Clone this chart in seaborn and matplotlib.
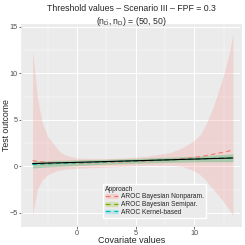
import matplotlib
matplotlib.use("Agg")
from matplotlib import pyplot as plt
from matplotlib.patches import Patch
from matplotlib.lines import Line2D
import pandas as pd
import seaborn as sns

# covariate grid and estimated curves
covariate = [-3.8, -3.4, -3.0, -2.5, -2.0, -1.5, -1.0, 0, 2, 4, 6, 8, 9, 10, 10.5, 11, 11.5, 12, 12.5, 13, 13.3]
true_thr = [0.30, 0.31, 0.33, 0.35, 0.37, 0.38, 0.40, 0.43, 0.50, 0.57, 0.64, 0.71, 0.75, 0.78, 0.80, 0.82, 0.84, 0.85, 0.87, 0.89, 0.90]

np_est = [0.62, 0.55, 0.48, 0.42, 0.38, 0.36, 0.35, 0.35, 0.40, 0.48, 0.58, 0.72, 0.82, 0.95, 1.05, 1.15, 1.28, 1.40, 1.52, 1.66, 1.78]
np_low = [-5.2, -2.5, -1.5, -0.9, -0.6, -0.4, -0.3, -0.2, -0.1, 0.0, 0.1, 0.1, 0.0, -0.5, -0.9, -1.5, -2.3, -3.0, -3.8, -4.7, -5.3]
np_up = [12.5, 7.5, 4.8, 3.2, 2.4, 1.6, 1.2, 0.9, 0.8, 0.9, 1.1, 1.5, 2.0, 2.8, 3.4, 4.5, 6.0, 7.8, 9.8, 12.2, 14.3]

semi_est = [0.22, 0.24, 0.26, 0.28, 0.31, 0.33, 0.35, 0.39, 0.47, 0.55, 0.63, 0.71, 0.75, 0.79, 0.81, 0.83, 0.85, 0.87, 0.89, 0.91, 0.92]
semi_low = [-0.15, -0.12, -0.09, -0.06, -0.03, 0.00, 0.03, 0.08, 0.18, 0.27, 0.35, 0.42, 0.45, 0.47, 0.48, 0.48, 0.49, 0.49, 0.49, 0.49, 0.49]
semi_up = [0.60, 0.60, 0.61, 0.62, 0.64, 0.66, 0.68, 0.71, 0.77, 0.84, 0.91, 1.00, 1.05, 1.11, 1.14, 1.18, 1.21, 1.25, 1.29, 1.33, 1.36]

ker_est = [0.20, 0.22, 0.25, 0.28, 0.30, 0.32, 0.34, 0.38, 0.46, 0.55, 0.63, 0.71, 0.75, 0.79, 0.81, 0.83, 0.85, 0.87, 0.88, 0.90, 0.91]
ker_low = [-0.20, -0.15, -0.10, -0.06, -0.02, 0.01, 0.04, 0.10, 0.22, 0.32, 0.40, 0.46, 0.48, 0.50, 0.50, 0.51, 0.51, 0.51, 0.51, 0.51, 0.51]
ker_up = [0.62, 0.60, 0.59, 0.60, 0.61, 0.63, 0.64, 0.67, 0.72, 0.80, 0.88, 0.97, 1.02, 1.08, 1.11, 1.15, 1.19, 1.23, 1.26, 1.30, 1.33]

approaches = ["AROC Bayesian Nonparam.", "AROC Bayesian Semipar.", "AROC Kernel-based"]
colores = ["#F8766D", "#7CAE00", "#00BFC4"]

sns.set_theme(style="darkgrid", rc={
    "axes.facecolor": "#EBEBEB",
    "grid.color": "white",
    "axes.edgecolor": "#EBEBEB",
})
plt.rcParams["font.family"] = ["Liberation Sans", "DejaVu Sans"]
plt.rcParams["mathtext.fontset"] = "custom"
plt.rcParams["mathtext.rm"] = "Liberation Sans"
plt.rcParams["mathtext.default"] = "regular"

fig = plt.figure(figsize=(2.45, 2.45), dpi=100)
ax = fig.add_axes([0.09, 0.078, 0.894, 0.82])

bandas = [(np_low, np_up), (semi_low, semi_up), (ker_low, ker_up)]
for (lo, up), c in zip(bandas, colores):
    ax.fill_between(covariate, lo, up, color=c, alpha=0.2, linewidth=0)

df = pd.DataFrame({
    "cov": covariate * 3,
    "thr": np_est + semi_est + ker_est,
    "approach": [a for a in approaches for _ in covariate],
})
sns.lineplot(data=df, x="cov", y="thr", hue="approach", palette=colores,
             linestyle=(0, (4, 3)), linewidth=0.8, ax=ax, legend=False)
sns.lineplot(x=covariate, y=true_thr, color="black", linewidth=0.8, ax=ax)

ax.set_xlim(-4.7, 14.0)
ax.set_ylim(-6.4, 15.2)
ax.set_xticks([0, 5, 10])
ax.set_yticks([-5, 0, 5, 10, 15])
ax.set_xticks([-2.5, 2.5, 7.5, 12.5], minor=True)
ax.set_yticks([-2.5, 2.5, 7.5, 12.5], minor=True)
ax.grid(which="major", color="white", linewidth=0.7)
ax.grid(which="minor", color="white", linewidth=0.35)
ax.tick_params(which="major", length=2, width=0.5, color="#333333", labelsize=5.2,
               labelcolor="#4D4D4D", pad=1, left=True, bottom=True)
ax.tick_params(which="minor", length=0)

ax.set_xlabel("Covariate values", fontsize=6.5)
ax.set_ylabel("Test outcome", fontsize=6.3)
ax.xaxis.set_label_coords(0.5, -0.075)
ax.yaxis.set_label_coords(-0.07, 0.5)
ax.xaxis.label.set_va("center")
ax.yaxis.label.set_va("center")
ax.set_title("Threshold values \u2013 Scenario III \u2013 FPF = 0.3\n$(n_{\\bar{D}}, n_D)$ = (50, 50)",
             fontsize=6.3, pad=1, linespacing=1.2)

handles = [(Patch(facecolor=c, alpha=0.2), Line2D([], [], color=c, linestyle=(0, (4, 3)), linewidth=0.9))
           for c in colores]
leg = ax.legend(handles, approaches, title="Approach", loc="lower center",
                bbox_to_anchor=(0.605, 0.04), fontsize=4.8, title_fontsize=4.8,
                frameon=True, fancybox=False, framealpha=1, edgecolor="white",
                handlelength=2.0, handleheight=0.9, labelspacing=0.1,
                borderpad=0.3, handletextpad=0.4, borderaxespad=0)
leg._legend_box.align = "left"

fig.savefig("out.png", dpi=100)
